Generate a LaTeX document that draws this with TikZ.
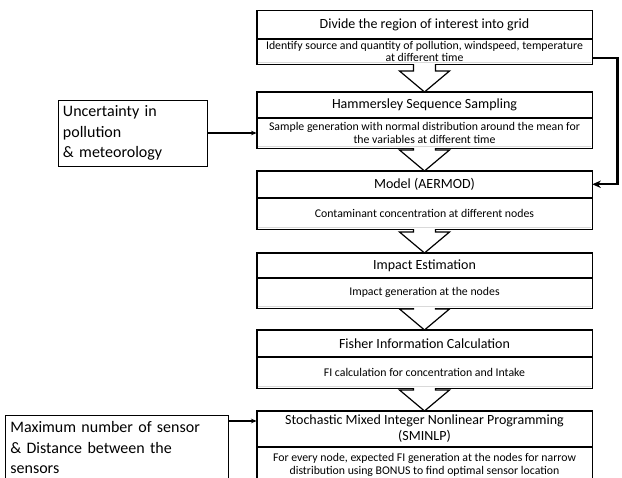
\documentclass[tikz,border=0pt]{standalone}
\usepackage{fontspec}
\setmainfont{Carlito}
\usetikzlibrary{arrows.meta,positioning,calc}
\tikzset{
  >={Stealth[length=2mm,width=1.6mm]},
  ttl/.style={draw,line width=0.6pt,minimum width=335pt,inner sep=0pt,
    align=center,anchor=north,font=\fontsize{14}{16}\selectfont},
  desc/.style={draw,line width=0.6pt,minimum width=335pt,inner sep=0pt,
    align=center,font=\fontsize{11.8}{12.8}\selectfont},
  frame/.style={line width=1.3pt},
  shade line/.style={gray!30,line width=1.2pt},
  blockarrow/.style={draw,line width=1.2pt,fill=white,line join=miter},
  side/.style={->,line width=1.2pt},
  feedback/.style={-{Stealth[length=3mm,width=2.6mm]},line width=2.4pt},
  note/.style={draw,line width=0.8pt,align=left,inner xsep=5pt,
    font=\fontsize{16}{20.5}\selectfont},
}
\begin{document}
\begin{tikzpicture}[x=1pt,y=-1pt]
  \useasboundingbox (0,0) rectangle (622,478);
  % stages
  \foreach \n/\ytop/\htop/\hbot/\heading/\detail in {
    1/10.5/27.5/25/{Divide the region of interest into grid}/{Identify source and quantity of pollution, windspeed, temperature\\at different time},
    2/92/25/30/{Hammersley Sequence Sampling}/{Sample generation with normal distribution around the mean for\\the variables at different time},
    3/171/26/31/{Model (AERMOD)}/{Contaminant concentration at different nodes},
    4/253/24/30/{Impact Estimation}/{Impact generation at the nodes},
    5/330/26/31/{Fisher Information Calculation}/{FI calculation for concentration and Intake},
    6/411/35/36/{Stochastic Mixed Integer Nonlinear Programming\\(SMINLP)}/{For every node, expected FI generation at the nodes for narrow\\distribution using BONUS to find optimal sensor location}}{
    \node[ttl,minimum height=\htop] (t\n) at (424.5,\ytop) {\heading};
    \node[desc,minimum height=\hbot,below=0pt of t\n] (d\n) {\detail};
    \draw[shade line] ($(d\n.south west)+(1,-2)$) -- ($(d\n.south east)+(-1,-2)$);
    \draw[frame] (t\n.north west) rectangle (d\n.south east);
  }
  % block arrows between stages
  \foreach \a/\b in {1/2,2/3,3/4,4/5,5/6}
    \draw[blockarrow] ($(d\a.south)+(-11,0)$) -- ($(t\b.north)+(-11,-21)$)
      -- ++(-14,0) -- (t\b.north) -- ($(t\b.north)+(25,-21)$) -- ++(-14,0)
      -- ($(d\a.south)+(11,0)$);
  % inputs
  \node[note,text width=139pt,minimum height=66pt] (u) at (132.5,133)
    {Uncertainty in\\pollution\\\& meteorology};
  \node[note,anchor=north west,text width=213pt,inner ysep=6pt] (m) at (5,415)
    {Maximum number of sensor\\\& Distance between the\\sensors};
  \draw[side] (u.east) -- (u.east -| d2.west);
  \draw[side] ($(m.north east)+(0,6)$) coordinate (mx) -- (mx -| t6.west);
  % feedback
  \draw[feedback] ($(d1.east)+(0,6.5)$) -- ++(25,0) |- (t3.east);
\end{tikzpicture}
\end{document}
